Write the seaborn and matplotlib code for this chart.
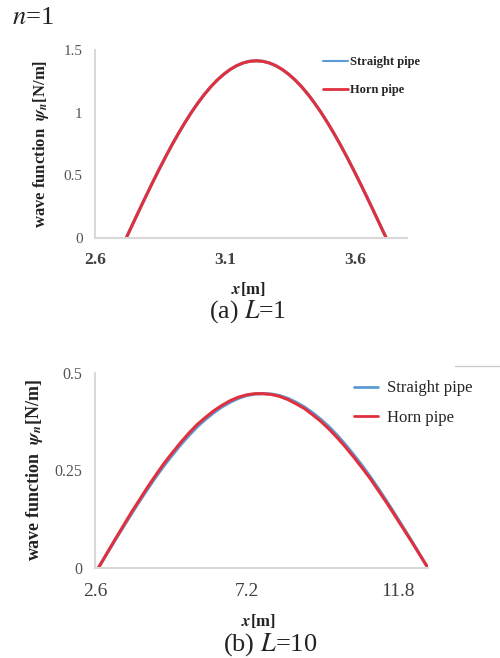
import matplotlib
matplotlib.use("Agg")
import matplotlib.pyplot as plt
import seaborn as sns
import pandas as pd
from matplotlib.lines import Line2D

# ---------------- data ----------------
# (a) L = 1
x_a = [2.720, 2.745, 2.770, 2.795, 2.820, 2.845, 2.870, 2.895, 2.920, 2.945,
       2.970, 2.995, 3.020, 3.045, 3.070, 3.095, 3.120, 3.145, 3.170, 3.195,
       3.220, 3.245, 3.270, 3.295, 3.320, 3.345, 3.370, 3.395, 3.420, 3.445,
       3.470, 3.495, 3.520, 3.545, 3.570, 3.595, 3.620, 3.645, 3.670, 3.695, 3.720]
straight_a = [0, 0.111, 0.221, 0.330, 0.437, 0.541, 0.642, 0.739, 0.831, 0.918,
              1.000, 1.075, 1.144, 1.206, 1.260, 1.306, 1.345, 1.375, 1.397, 1.410,
              1.414, 1.410, 1.397, 1.375, 1.345, 1.306, 1.260, 1.206, 1.144, 1.075,
              1.000, 0.918, 0.831, 0.739, 0.642, 0.541, 0.437, 0.330, 0.221, 0.111, 0]
horn_a = [0, 0.111, 0.221, 0.330, 0.437, 0.541, 0.642, 0.739, 0.831, 0.918,
          1.000, 1.075, 1.144, 1.206, 1.260, 1.306, 1.345, 1.375, 1.397, 1.410,
          1.414, 1.410, 1.397, 1.375, 1.345, 1.306, 1.260, 1.206, 1.144, 1.075,
          1.000, 0.918, 0.831, 0.739, 0.642, 0.541, 0.437, 0.330, 0.221, 0.111, 0]

# (b) L = 10
x_b = [2.70, 2.95, 3.20, 3.45, 3.70, 3.95, 4.20, 4.45, 4.70, 4.95,
       5.20, 5.45, 5.70, 5.95, 6.20, 6.45, 6.70, 6.95, 7.20, 7.45,
       7.70, 7.95, 8.20, 8.45, 8.70, 8.95, 9.20, 9.45, 9.70, 9.95,
       10.20, 10.45, 10.70, 10.95, 11.20, 11.45, 11.70, 11.95, 12.20, 12.45, 12.70]
straight_b = [0, 0.035, 0.070, 0.104, 0.138, 0.171, 0.203, 0.234, 0.263, 0.290,
              0.316, 0.340, 0.362, 0.381, 0.398, 0.413, 0.425, 0.435, 0.442, 0.446,
              0.447, 0.446, 0.442, 0.435, 0.425, 0.413, 0.398, 0.381, 0.362, 0.340,
              0.316, 0.290, 0.263, 0.234, 0.203, 0.171, 0.138, 0.104, 0.070, 0.035, 0]
horn_b = [0, 0.036, 0.072, 0.107, 0.142, 0.175, 0.208, 0.239, 0.269, 0.296,
          0.322, 0.346, 0.368, 0.386, 0.403, 0.417, 0.429, 0.438, 0.444, 0.447,
          0.447, 0.445, 0.440, 0.432, 0.421, 0.409, 0.393, 0.376, 0.356, 0.334,
          0.310, 0.284, 0.257, 0.229, 0.198, 0.167, 0.134, 0.101, 0.068, 0.034, 0]

xticks_a = [2.6, 3.1, 3.6]
yticks_a = [0, 0.5, 1, 1.5]
yticklabels_a = ["0", "0.5", "1", "1.5"]
xticks_b = [2.6, 7.2, 11.8]
yticks_b = [0, 0.25, 0.5]
yticklabels_b = ["0", "0.25", "0.5"]
series = ["Straight pipe", "Horn pipe"]

# ---------------- style ----------------
sns.set_theme(style="white")
plt.rcParams["font.family"] = ["Liberation Serif", "DejaVu Serif"]
plt.rcParams["mathtext.fontset"] = "stix"

BLUE = "#5B9BD5"
RED = "#E0303E"
SPINE = "#D9D9D9"

W, H = 500, 658
fig = plt.figure(figsize=(W / 100, H / 100), dpi=100)


def fx(px):
    return px / W


def fy(py):
    return 1 - py / H


ax_a = fig.add_axes([fx(95), fy(238), fx(407) - fx(95), fy(50) - fy(238)])
ax_b = fig.add_axes([fx(95), fy(568), fx(428) - fx(95), fy(373) - fy(568)])

df_a = pd.DataFrame({
    "x": x_a * 2,
    "y": straight_a + horn_a,
    "pipe": [series[0]] * len(x_a) + [series[1]] * len(x_a),
})
df_b = pd.DataFrame({
    "x": x_b * 2,
    "y": straight_b + horn_b,
    "pipe": [series[0]] * len(x_b) + [series[1]] * len(x_b),
})

for ax, df in [(ax_a, df_a), (ax_b, df_b)]:
    sns.lineplot(data=df, x="x", y="y", hue="pipe", hue_order=series,
                 palette=[BLUE, RED], sort=False, estimator=None,
                 linewidth=2.2, ax=ax, legend=False)
    for s in ["top", "right"]:
        ax.spines[s].set_visible(False)
    for s in ["left", "bottom"]:
        ax.spines[s].set_color(SPINE)
        ax.spines[s].set_linewidth(1.5)
    ax.tick_params(length=0)
    ax.grid(False)
    ax.set_xlabel("")
    ax.set_ylabel("")

YLABEL = r"wave function  $\mathbfit{\psi}_{\mathbfit{n}}$[N/m]"
XLABEL = r"$\mathbfit{x}$[m]"

# panel (a)
ax_a.set_xlim(2.6, 3.8)
ax_a.set_ylim(0, 1.5)
ax_a.set_xticks(xticks_a)
ax_a.set_xticklabels([str(t) for t in xticks_a], fontsize=12.5, fontweight="bold", color="#404040")
ax_a.set_yticks(yticks_a)
ax_a.set_yticklabels(yticklabels_a, fontsize=11, color="#555555")
ax_a.tick_params(axis="x", pad=10)
ax_a.tick_params(axis="y", pad=9)
ax_a.set_ylabel(YLABEL, fontsize=12, fontweight="bold", color="#222222")
ax_a.yaxis.set_label_coords(-0.14, 0.5)
ax_a.set_xlabel(XLABEL, fontsize=12, fontweight="bold", color="#222222")
ax_a.xaxis.set_label_coords(0.49, -0.225)
ax_a.legend(handles=[Line2D([], [], color=BLUE, lw=1.5), Line2D([], [], color=RED, lw=2)],
            labels=series, loc="upper left", bbox_to_anchor=(fx(317), fy(50)),
            bbox_transform=fig.transFigure, frameon=False,
            handlelength=2.0, handletextpad=0.1, labelspacing=1.3, borderpad=0,
            prop={"weight": "bold", "size": 9})

# panel (b)
ax_b.set_xlim(2.6, 12.7)
ax_b.set_ylim(0, 0.5)
ax_b.set_xticks(xticks_b)
ax_b.set_xticklabels([str(t) for t in xticks_b], fontsize=14, color="#404040")
ax_b.set_yticks(yticks_b)
ax_b.set_yticklabels(yticklabels_b, fontsize=11.5, color="#555555")
ax_b.tick_params(axis="x", pad=11)
ax_b.tick_params(axis="y", pad=9)
ax_b.set_ylabel(YLABEL, fontsize=13, fontweight="bold", color="#222222")
ax_b.yaxis.set_label_coords(-0.15, 0.5)
ax_b.set_xlabel(XLABEL, fontsize=12, fontweight="bold", color="#222222")
ax_b.xaxis.set_label_coords(0.49, -0.225)
ax_b.legend(handles=[Line2D([], [], color=BLUE, lw=2), Line2D([], [], color=RED, lw=2)],
            labels=series, loc="upper left", bbox_to_anchor=(fx(346), fy(372)),
            bbox_transform=fig.transFigure, frameon=False,
            handlelength=1.4, handletextpad=0.55, labelspacing=0.8, borderpad=0,
            prop={"size": 12})

# figure texts
fig.text(fx(12), fy(18), r"$n$=1", fontsize=19, va="center", ha="left", color="#222222")
fig.text(fx(248), fy(312), r"(a) $L$=1", fontsize=18.5, va="center", ha="center", color="#222222")
fig.text(fx(270), fy(645), r"(b) $L$=10", fontsize=19, va="center", ha="center", color="#222222")
fig.add_artist(Line2D([fx(455), fx(500)], [fy(366), fy(366)], color="#CCCCCC", lw=1,
                      transform=fig.transFigure))

fig.savefig("out.png", dpi=100)
